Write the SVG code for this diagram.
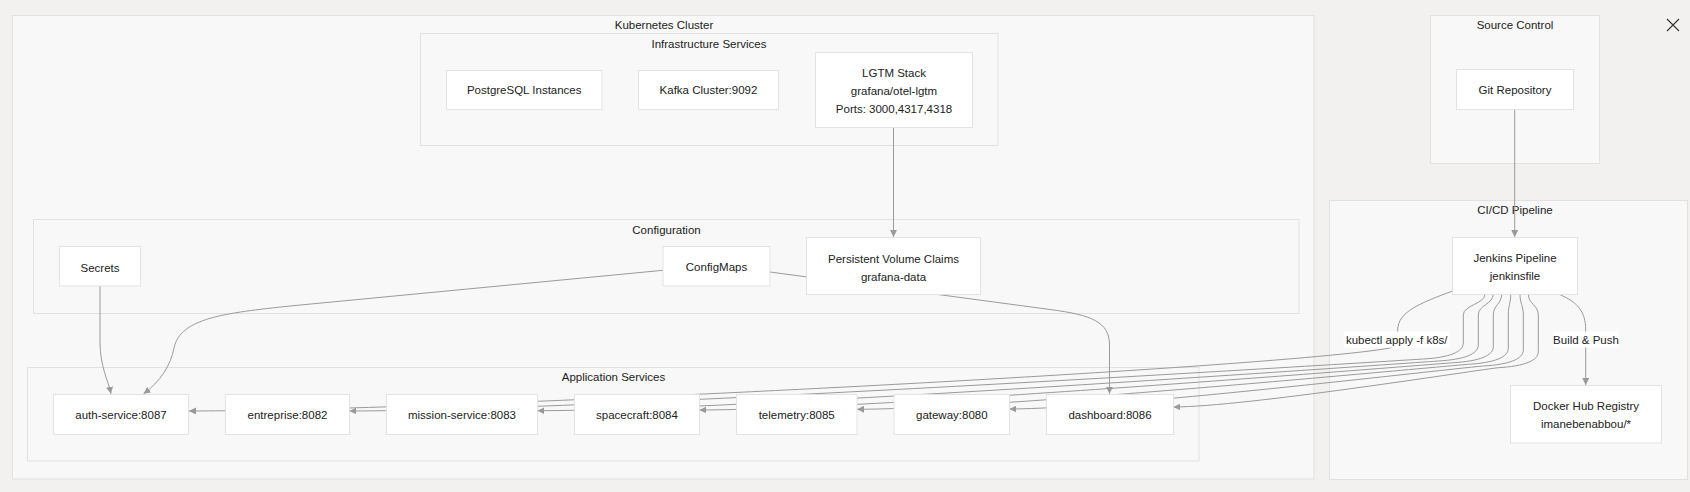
<svg xmlns="http://www.w3.org/2000/svg" width="1690" height="492" viewBox="0 0 1690 492">
<defs>
<style>
.bg{fill:#f2f1f0}
.cluster{fill:#f8f8f8;stroke:#e1e1e1;stroke-width:1}
.node rect{fill:#ffffff;stroke:#e3e3e3;stroke-width:1}
text{font-family:"Liberation Sans",Arial,sans-serif;font-size:11.5px;fill:#222222;text-anchor:middle}
.edge{fill:none;stroke:#9a9a9a;stroke-width:1}
.lblbg{fill:#ffffff}
</style>
<marker id="arr" viewBox="0 0 10 10" refX="10" refY="5" markerUnits="userSpaceOnUse" markerWidth="7" markerHeight="7" orient="auto"><path d="M0,0 L10,5 L0,10 z" fill="#999999"/></marker>
</defs>
<rect class="bg" x="0" y="0" width="1690" height="492"/>
<g id="clusters">
<g id="cluster-k8s"><rect class="cluster" x="12.5" y="15.5" width="1301.5" height="463.5"/><text x="664" y="29">Kubernetes Cluster</text></g>
<g id="cluster-infra"><rect class="cluster" x="420.5" y="33.5" width="577.5" height="112"/><text x="709" y="47.5">Infrastructure Services</text></g>
<g id="cluster-config"><rect class="cluster" x="33.5" y="219.5" width="1265.5" height="94"/><text x="666.5" y="233.5">Configuration</text></g>
<g id="cluster-app"><rect class="cluster" x="27.5" y="367.5" width="1171.5" height="93.5"/><text x="613.5" y="381">Application Services</text></g>
<g id="cluster-source"><rect class="cluster" x="1430.5" y="15.5" width="169" height="148"/><text x="1515" y="29">Source Control</text></g>
<g id="cluster-cicd"><rect class="cluster" x="1329.5" y="200.5" width="358" height="279"/><text x="1515" y="214">CI/CD Pipeline</text></g>
</g>
<g id="connectors">
<path class="edge" marker-end="url(#arr)" d="M1514.7,109.5 L1514.7,237"/>
<path class="edge" marker-end="url(#arr)" d="M893.5,127.5 L893.5,237"/>
<path class="edge" marker-end="url(#arr)" d="M100,286 L100,342 C100,366 108,380 111,393.8"/>
<path class="edge" marker-end="url(#arr)" d="M663,270.3 L290,306 C225,313 180,318 174,348 C171,365 160,382 143.5,393.8"/>
<path class="edge" marker-end="url(#arr)" d="M770,272 L1050,309.5 C1092,315 1109.5,322 1109.5,345 L1109.5,393.8"/>
<path class="edge" marker-end="url(#arr)" d="M1452.7,291 C1420,303 1397.7,312 1397.7,330 C1397.7,340 1395,346 1390,348 C1280,368 453,410.7 189,411"/>
<path class="edge" marker-end="url(#arr)" d="M1485,294 C1485,304 1463.3,305 1463.3,315 L1463.3,343 C1463.3,352 1449.3,357.5 1423.3,359 C1315.9,365.8 585.7,410.7 349.5,411"/>
<path class="edge" marker-end="url(#arr)" d="M1493.3,294 C1493.3,304 1478.3,305 1478.3,315 L1478.3,345 C1478.3,354 1464.3,359.5 1438.3,361 C1348.2,367.3 735.8,410.4 537.5,410.7"/>
<path class="edge" marker-end="url(#arr)" d="M1501.7,294 C1501.7,304 1493.3,305 1493.3,315 L1493.3,346.7 C1493.3,355.7 1479.3,361.2 1453.3,362.7 C1377.9,368.6 865.2,409.7 699.5,410"/>
<path class="edge" marker-end="url(#arr)" d="M1510.7,294 C1510.7,304 1508.3,305 1508.3,315 L1508.3,348.3 C1508.3,357.3 1494.3,362.8 1468.3,364.3 C1407.2,369.5 991.6,409 857,409.3"/>
<path class="edge" marker-end="url(#arr)" d="M1520,294 C1520,304 1523.3,305 1523.3,315 L1523.3,350 C1523.3,359 1509.3,364.5 1483.3,366 C1435.9,370.3 1113.7,408.7 1009.5,409"/>
<path class="edge" marker-end="url(#arr)" d="M1528.3,294 C1528.3,304 1538.3,305 1538.3,315 L1538.3,351.7 C1538.3,360.7 1524.3,366.2 1498.3,367.7 C1465.8,371.6 1245,406.7 1173.5,407"/>
<path class="edge" marker-end="url(#arr)" d="M1558.3,294 C1578,302 1585.7,312 1585.7,330 L1585.7,385"/>
</g>
<g id="edge-labels">
<g id="label-kubectl"><rect class="lblbg" x="1343.7" y="331.5" width="106" height="16"/><text x="1396.7" y="344">kubectl apply -f k8s/</text></g>
<g id="label-build"><rect class="lblbg" x="1553" y="331.5" width="66" height="16"/><text x="1586" y="344">Build &amp; Push</text></g>
</g>
<g id="nodes">
<g id="postgres" class="node"><rect x="446.5" y="70.5" width="155.5" height="39"/><text x="524.2" y="94">PostgreSQL Instances</text></g>
<g id="kafka" class="node"><rect x="638.5" y="70.5" width="140" height="39"/><text x="708.5" y="94">Kafka Cluster:9092</text></g>
<g id="lgtm" class="node"><rect x="815.5" y="52.5" width="157" height="75"/><text x="894" y="77">LGTM Stack</text><text x="894" y="95">grafana/otel-lgtm</text><text x="894" y="112.5">Ports: 3000,4317,4318</text></g>
<g id="git" class="node"><rect x="1456.5" y="69.5" width="117" height="40"/><text x="1515" y="94">Git Repository</text></g>
<g id="jenkins" class="node"><rect x="1452.5" y="237.5" width="125" height="57"/><text x="1515" y="262">Jenkins Pipeline</text><text x="1515" y="280">jenkinsfile</text></g>
<g id="dockerhub" class="node"><rect x="1510.5" y="385.5" width="151" height="57.5"/><text x="1586" y="410">Docker Hub Registry</text><text x="1586" y="428">imanebenabbou/*</text></g>
<g id="secrets" class="node"><rect x="59.5" y="246.5" width="81" height="39.5"/><text x="100" y="271.5">Secrets</text></g>
<g id="configmaps" class="node"><rect x="663" y="246.5" width="107" height="39.5"/><text x="716.5" y="271">ConfigMaps</text></g>
<g id="pvc" class="node"><rect x="806.5" y="237.5" width="174" height="57"/><text x="893.5" y="262.5">Persistent Volume Claims</text><text x="893.5" y="280.5">grafana-data</text></g>
<g id="auth" class="node"><rect x="53.5" y="394.5" width="135" height="40"/><text x="121" y="419">auth-service:8087</text></g>
<g id="entreprise" class="node"><rect x="225.5" y="394.5" width="124" height="40"/><text x="287.5" y="419">entreprise:8082</text></g>
<g id="mission" class="node"><rect x="386.5" y="394.5" width="151" height="40"/><text x="462" y="419">mission-service:8083</text></g>
<g id="spacecraft" class="node"><rect x="574.5" y="394.5" width="125" height="40"/><text x="637" y="419">spacecraft:8084</text></g>
<g id="telemetry" class="node"><rect x="736.5" y="394.5" width="120.5" height="40"/><text x="796.7" y="419">telemetry:8085</text></g>
<g id="gateway" class="node"><rect x="894" y="394.5" width="115.5" height="40"/><text x="951.8" y="419">gateway:8080</text></g>
<g id="dashboard" class="node"><rect x="1046.5" y="394.5" width="127" height="40"/><text x="1110" y="419">dashboard:8086</text></g>
</g>
<g id="close-icon"><path d="M1667,19 L1679,31 M1679,19 L1667,31" stroke="#333333" stroke-width="1.1" fill="none"/></g>
</svg>
